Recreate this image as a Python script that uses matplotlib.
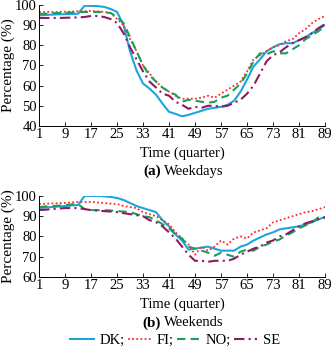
import matplotlib
matplotlib.use("Agg")
import matplotlib.pyplot as plt
import numpy as np

# quarters sampled every second step (1, 3, ..., 89)
quarters = list(range(1, 90, 2))
xticks = list(range(1, 90, 8))

wd_dk = [94.8, 95.0, 95.2, 95.3, 95.4, 95.5, 95.6, 99.6, 99.5, 99.4, 99.0, 98.0, 96.5, 90.0,
         77.0, 67.5, 61.0, 58.5, 55.5, 51.0, 47.0, 46.0, 44.8, 45.5, 46.5, 47.5, 48.5, 49.0,
         49.5, 50.5, 52.5, 57.0, 63.0, 69.5, 73.0, 77.0, 79.0, 80.5, 81.0, 81.0, 82.5, 84.0,
         86.0, 88.0, 90.0]
wd_fi = [96.5, 96.5, 96.5, 96.5, 96.6, 96.7, 96.8, 96.9, 97.0, 96.8, 96.5, 96.0, 93.0, 90.0,
         83.0, 77.0, 70.0, 66.0, 62.0, 59.0, 57.0, 55.0, 53.5, 53.5, 53.5, 54.0, 55.0, 54.0,
         56.0, 58.0, 60.0, 62.0, 67.0, 73.0, 75.0, 77.0, 79.0, 80.0, 82.0, 83.0, 86.0, 88.0,
         91.0, 93.0, 94.5]
wd_no = [95.5, 95.6, 95.8, 96.0, 96.0, 96.2, 96.4, 96.5, 96.5, 96.5, 96.3, 96.0, 94.0, 91.0,
         84.0, 77.0, 70.0, 65.0, 62.0, 59.0, 57.0, 55.5, 52.0, 53.0, 52.5, 52.0, 51.5, 52.0,
         54.0, 55.0, 58.0, 61.0, 66.0, 72.0, 76.0, 75.5, 77.0, 76.0, 76.0, 78.0, 80.0, 83.0,
         85.0, 87.0, 89.5]
wd_se = [93.5, 93.5, 93.5, 93.5, 93.6, 93.7, 93.8, 94.0, 94.5, 94.5, 94.0, 93.0, 91.0, 86.0,
         79.0, 73.0, 67.0, 62.0, 59.0, 56.0, 55.0, 52.0, 50.5, 48.5, 49.5, 49.0, 50.0, 50.0,
         49.5, 50.0, 51.5, 53.0, 56.0, 60.0, 66.0, 72.0, 75.0, 76.5, 79.0, 81.0, 82.5, 84.0,
         86.0, 88.5, 90.5]

we_dk = [94.0, 94.3, 94.5, 94.8, 95.0, 95.3, 95.5, 100.0, 100.0, 100.0, 99.8, 99.5, 99.0, 98.0,
         96.5, 95.0, 94.0, 93.0, 92.0, 88.0, 85.0, 81.0, 78.0, 73.5, 74.0, 74.5, 75.0, 74.0,
         73.0, 73.0, 73.0, 75.0, 76.0, 78.0, 79.5, 81.0, 82.0, 83.5, 84.0, 84.5, 85.0, 86.0,
         87.0, 88.5, 89.5]
we_fi = [96.0, 96.2, 96.3, 96.4, 96.5, 96.8, 97.0, 97.0, 97.0, 96.8, 96.5, 96.2, 96.0, 95.0,
         94.5, 94.0, 92.0, 91.0, 90.0, 88.0, 86.0, 82.0, 79.0, 76.0, 71.0, 75.0, 73.0, 75.0,
         78.0, 76.0, 79.0, 80.0, 79.0, 82.0, 83.0, 84.0, 87.0, 88.0, 89.0, 90.0, 91.0, 92.0,
         92.5, 93.5, 94.5]
we_no = [94.5, 94.8, 95.0, 95.2, 95.5, 95.8, 96.0, 93.5, 93.0, 93.0, 93.0, 92.8, 92.5, 92.3,
         92.0, 91.0, 90.0, 89.5, 88.0, 86.0, 84.0, 81.0, 79.0, 75.0, 74.0, 73.0, 72.0, 70.5,
         72.0, 71.0, 70.0, 72.5, 73.5, 73.0, 75.0, 76.0, 77.5, 78.5, 80.5, 82.0, 84.0, 85.5,
         87.0, 89.5, 89.5]
we_se = [93.0, 93.2, 93.5, 93.8, 94.0, 94.0, 94.0, 93.5, 93.0, 92.8, 92.5, 92.3, 92.0, 91.5,
         91.0, 90.5, 90.0, 88.0, 87.0, 85.0, 82.0, 79.0, 75.0, 71.0, 68.0, 68.0, 67.5, 68.0,
         68.0, 68.0, 69.0, 71.0, 72.5, 74.0, 75.0, 77.0, 78.0, 80.0, 81.0, 83.0, 85.0, 86.5,
         87.5, 88.5, 89.5]

labels = ["DK;", "FI;", "NO;", "SE"]
colors = ["#1ea4dc", "#ff2a2a", "#17a057", "#8e1b62"]
styles = ["-", (0, (1, 1.3)), (0, (4, 2.5)), (0, (5, 2, 1, 2))]
widths = [1.5, 1.3, 1.5, 1.5]

plt.rcParams["font.family"] = ["Liberation Serif", "DejaVu Serif"]

fig = plt.figure(figsize=(3.31, 3.48), dpi=100)
ax_top = fig.add_axes([0.118, 0.638, 0.864, 0.348])
ax_bot = fig.add_axes([0.118, 0.204, 0.864, 0.233])


def draw_panel(ax, series, ylo, yticks):
    lines = []
    for vals, lab, col, ls, lw in zip(series, labels, colors, styles, widths):
        (ln,) = ax.plot(quarters, vals, color=col, linestyle=ls, linewidth=lw, label=lab)
        lines.append(ln)
    ax.set_xlim(1, 89)
    ax.set_ylim(ylo, 100)
    ax.set_xticks(xticks)
    ax.set_yticks(yticks)
    ax.tick_params(direction="in", length=3, width=0.6, labelsize=10.5, pad=1.5)
    for side in ["top", "right"]:
        ax.spines[side].set_visible(False)
    for side in ["left", "bottom"]:
        ax.spines[side].set_linewidth(0.7)
    ax.set_ylabel("Percentage (%)", fontsize=11)
    ax.yaxis.set_label_coords(-0.083, 0.5)
    ax.set_xlabel("Time (quarter)", fontsize=10.5, labelpad=4)
    return lines


draw_panel(ax_top, [wd_dk, wd_fi, wd_no, wd_se], 40, list(range(40, 101, 10)))
lines = draw_panel(ax_bot, [we_dk, we_fi, we_no, we_se], 60, list(range(60, 101, 10)))

fig.text(0.485, 0.508, "(a)", fontsize=11, fontweight="bold", ha="right", va="center")
fig.text(0.495, 0.508, "Weekdays", fontsize=10.5, ha="left", va="center")
fig.text(0.485, 0.072, "(b)", fontsize=11, fontweight="bold", ha="right", va="center")
fig.text(0.495, 0.072, "Weekends", fontsize=10.5, ha="left", va="center")

fig.legend(handles=lines, loc="center", bbox_to_anchor=(0.53, 0.022), ncol=4, frameon=False,
           fontsize=10.5, handlelength=1.6, handletextpad=0.4, columnspacing=0.2,
           borderpad=0, borderaxespad=0)

fig.savefig("out.png", dpi=100)
